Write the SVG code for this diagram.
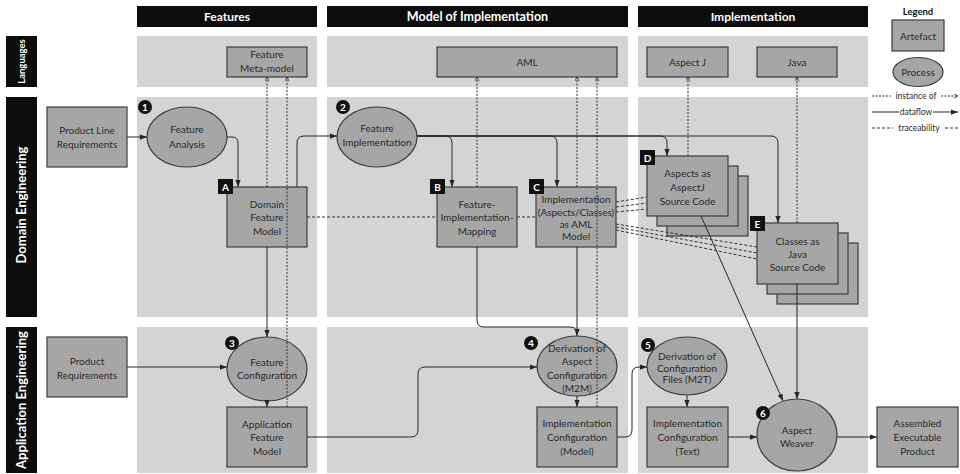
<svg xmlns="http://www.w3.org/2000/svg" width="960" height="474" viewBox="0 0 960 474">
<defs>
<style>
.panel{fill:#d4d4d4}
.hdr{fill:#0d0d0d}
.hdrt{fill:#fff;font-family:Lato,"Liberation Sans",sans-serif;font-weight:bold;font-size:12px;text-anchor:middle}
.node{fill:#a6a6a6;stroke:#3c3c3c;stroke-width:1.2}
.t{font-family:Lato,"Liberation Sans",sans-serif;font-size:10px;fill:#2a2a2a;text-anchor:middle}
.lt{font-family:Lato,"Liberation Sans",sans-serif;font-size:8.5px;fill:#2a2a2a;text-anchor:middle}
.flow{fill:none;stroke:#262626;stroke-width:1;marker-end:url(#arr)}
.flown{fill:none;stroke:#262626;stroke-width:1}
.inst{fill:none;stroke:#333;stroke-width:1;stroke-dasharray:2 1.5;marker-end:url(#open)}
.instn{fill:none;stroke:#333;stroke-width:1;stroke-dasharray:2 1.5}
.trace{fill:none;stroke:#333;stroke-width:1;stroke-dasharray:3 2}
.badge{fill:#111}
.bt{fill:#fff;font-family:Lato,"Liberation Sans",sans-serif;font-weight:bold;font-size:10px;text-anchor:middle}
</style>
<marker id="arr" viewBox="0 0 8 6" refX="8" refY="3" markerWidth="7" markerHeight="5.5" orient="auto" markerUnits="userSpaceOnUse">
<path d="M0,0 L8,3 L0,6 Z" fill="#262626"/>
</marker>
<marker id="open" viewBox="0 0 6 6" refX="5.5" refY="3" markerWidth="5" markerHeight="5" orient="auto" markerUnits="userSpaceOnUse">
<path d="M0.5,0.5 L5.5,3 L0.5,5.5" fill="none" stroke="#333" stroke-width="1"/>
</marker>
</defs>

<g id="background">
<rect x="137" y="36" width="180" height="51" class="panel"/>
<rect x="327" y="36" width="301" height="51" class="panel"/>
<rect x="638" y="36" width="230" height="51" class="panel"/>
<rect x="137" y="97" width="180" height="220" class="panel"/>
<rect x="327" y="97" width="301" height="220" class="panel"/>
<rect x="638" y="97" width="230" height="220" class="panel"/>
<rect x="137" y="327" width="180" height="146" class="panel"/>
<rect x="327" y="327" width="301" height="146" class="panel"/>
<rect x="638" y="327" width="230" height="146" class="panel"/>
</g>

<g id="headers">
<rect x="137" y="6" width="180" height="21" class="hdr"/>
<text x="227" y="20.8" class="hdrt">Features</text>
<rect x="327" y="6" width="301" height="21" class="hdr"/>
<text x="477.5" y="20.8" class="hdrt" style="font-size:12.5px">Model of Implementation</text>
<rect x="638" y="6" width="230" height="21" class="hdr"/>
<text x="753" y="20.8" class="hdrt">Implementation</text>
<rect x="6" y="36" width="31" height="51" class="hdr"/>
<text transform="translate(21.5,61.5) rotate(-90)" y="3.4" class="hdrt" style="font-size:9.5px">Languages</text>
<rect x="6" y="97" width="31" height="220" class="hdr"/>
<text transform="translate(21.5,205) rotate(-90)" y="4.5" class="hdrt" style="font-size:13px">Domain Engineering</text>
<rect x="6" y="327" width="31" height="146" class="hdr"/>
<text transform="translate(21.5,400) rotate(-90)" y="4.5" class="hdrt" style="font-size:13px">Application Engineering</text>
</g>

<g id="legend">
<text x="918" y="15" class="hdrt" style="fill:#111;font-size:9.5px">Legend</text>
<rect x="892" y="20" width="52" height="31" class="node"/>
<text x="918" y="39.5" class="t">Artefact</text>
<ellipse cx="918" cy="72" rx="25" ry="14.5" class="node"/>
<text x="918" y="75.5" class="t">Process</text>
<path d="M872,96 H891" class="instn"/>
<text x="916" y="99" class="lt">instance of</text>
<path d="M941,96 H958" class="inst"/>
<path d="M872,112 H899" class="flown"/>
<text x="916" y="115" class="lt">dataflow</text>
<path d="M933,112 H958" class="flow"/>
<path d="M872,128 H893" class="trace"/>
<text x="919" y="131" class="lt">traceability</text>
<path d="M945,128 H958" class="trace"/>
</g>

<g id="n-feature-metamodel">
<rect x="227" y="47" width="80" height="30" class="node"/>
<text x="267" y="58" class="t">Feature</text>
<text x="267" y="72" class="t">Meta-model</text>
</g>
<g id="n-aml">
<rect x="437" y="47" width="180" height="30" class="node"/>
<text x="527" y="65.5" class="t">AML</text>
</g>
<g id="n-aspectj">
<rect x="647" y="47" width="81" height="30" class="node"/>
<text x="687.5" y="65.5" class="t">Aspect J</text>
</g>
<g id="n-java">
<rect x="757" y="47" width="80" height="30" class="node"/>
<text x="797" y="65.5" class="t">Java</text>
</g>

<g id="n-plr">
<rect x="47" y="107" width="80" height="60" class="node"/>
<text x="87" y="133.5" class="t">Product Line</text>
<text x="87" y="147.5" class="t">Requirements</text>
</g>
<g id="n-feature-analysis">
<ellipse cx="187" cy="137" rx="40" ry="30" class="node"/>
<text x="187" y="132.5" class="t">Feature</text>
<text x="187" y="147.5" class="t">Analysis</text>
<circle cx="145" cy="107" r="7" class="badge"/>
<text x="145" y="110.5" class="bt">1</text>
</g>
<g id="n-feature-impl">
<ellipse cx="377" cy="137" rx="40" ry="30" class="node"/>
<text x="377" y="131.5" class="t">Feature</text>
<text x="377" y="145.5" class="t">Implementation</text>
<circle cx="343" cy="107" r="7" class="badge"/>
<text x="343" y="110.5" class="bt">2</text>
</g>
<g id="n-A">
<rect x="227" y="187" width="80" height="60" class="node"/>
<text x="267" y="207.5" class="t">Domain</text>
<text x="267" y="220.5" class="t">Feature</text>
<text x="267" y="234.5" class="t">Model</text>
<rect x="218" y="179" width="15" height="15" class="badge"/>
<text x="225.5" y="190.5" class="bt">A</text>
</g>
<g id="n-B">
<rect x="437" y="187" width="80" height="60" class="node"/>
<text x="477" y="207.5" class="t">Feature-</text>
<text x="477" y="220.5" class="t">Implementation-</text>
<text x="477" y="234.5" class="t">Mapping</text>
<rect x="430" y="179" width="15" height="15" class="badge"/>
<text x="437.5" y="190.5" class="bt">B</text>
</g>
<g id="n-C">
<rect x="536" y="187" width="80" height="60" class="node"/>
<text x="576" y="202.5" class="t">Implementation</text>
<text x="576" y="215.5" class="t">(Aspects/Classes)</text>
<text x="576" y="228" class="t">as AML</text>
<text x="576" y="240" class="t">Model</text>
<rect x="529" y="179" width="15" height="15" class="badge"/>
<text x="536.5" y="190.5" class="bt">C</text>
</g>
<g id="n-D">
<rect x="667" y="176" width="81" height="60" class="node"/>
<rect x="657" y="166" width="81" height="60" class="node"/>
<rect x="647" y="156" width="81" height="60" class="node"/>
<text x="687.5" y="176.5" class="t">Aspects as</text>
<text x="687.5" y="190.5" class="t">AspectJ</text>
<text x="687.5" y="204.5" class="t">Source Code</text>
<rect x="640" y="150" width="15" height="15" class="badge"/>
<text x="647.5" y="161.5" class="bt">D</text>
</g>
<g id="n-E">
<rect x="777" y="243" width="81" height="61" class="node"/>
<rect x="767" y="233" width="81" height="61" class="node"/>
<rect x="757" y="223" width="81" height="61" class="node"/>
<text x="797.5" y="244.5" class="t">Classes as</text>
<text x="797.5" y="257.5" class="t">Java</text>
<text x="797.5" y="270.5" class="t">Source Code</text>
<rect x="750" y="216" width="15" height="15" class="badge"/>
<text x="757.5" y="227.5" class="bt">E</text>
</g>

<g id="n-pr">
<rect x="47" y="337" width="80" height="60" class="node"/>
<text x="87" y="364.5" class="t">Product</text>
<text x="87" y="378.5" class="t">Requirements</text>
</g>
<g id="n-feature-config">
<ellipse cx="267" cy="369" rx="40" ry="32" class="node"/>
<text x="267" y="365.5" class="t">Feature</text>
<text x="267" y="378.5" class="t">Configuration</text>
<circle cx="232" cy="343" r="7" class="badge"/>
<text x="232" y="346.5" class="bt">3</text>
</g>
<g id="n-afm">
<rect x="227" y="407" width="80" height="60" class="node"/>
<text x="267" y="427.5" class="t">Application</text>
<text x="267" y="440.5" class="t">Feature</text>
<text x="267" y="454.5" class="t">Model</text>
</g>
<g id="n-deriv-aspect">
<ellipse cx="577" cy="366" rx="40" ry="30" class="node"/>
<text x="577" y="351.5" class="t">Derivation of</text>
<text x="577" y="364.5" class="t">Aspect</text>
<text x="577" y="378.5" class="t">Configuration</text>
<text x="577" y="391.5" class="t">(M2M)</text>
<circle cx="531" cy="343" r="7" class="badge"/>
<text x="531" y="346.5" class="bt">4</text>
</g>
<g id="n-icm">
<rect x="537" y="407" width="80" height="60" class="node"/>
<text x="577" y="426.5" class="t">Implementation</text>
<text x="577" y="440.5" class="t">Configuration</text>
<text x="577" y="454.5" class="t">(Model)</text>
</g>
<g id="n-deriv-files">
<ellipse cx="687" cy="366" rx="40" ry="29" class="node"/>
<text x="687" y="360" class="t">Derivation of</text>
<text x="687" y="371.5" class="t">Configuration</text>
<text x="687" y="383" class="t">Files (M2T)</text>
<circle cx="648" cy="345" r="7" class="badge"/>
<text x="648" y="348.5" class="bt">5</text>
</g>
<g id="n-ict">
<rect x="647" y="407" width="81" height="60" class="node"/>
<text x="687.5" y="426.5" class="t">Implementation</text>
<text x="687.5" y="440.5" class="t">Configuration</text>
<text x="687.5" y="454.5" class="t">(Text)</text>
</g>
<g id="n-weaver">
<ellipse cx="797" cy="435" rx="40" ry="36" class="node"/>
<text x="797" y="434" class="t">Aspect</text>
<text x="797" y="447" class="t">Weaver</text>
<circle cx="763" cy="413" r="7" class="badge"/>
<text x="763" y="416.5" class="bt">6</text>
</g>
<g id="n-aep">
<rect x="877" y="407" width="81" height="60" class="node"/>
<text x="917.5" y="426.5" class="t">Assembled</text>
<text x="917.5" y="440.5" class="t">Executable</text>
<text x="917.5" y="454.5" class="t">Product</text>
</g>

<g id="connectors">
<path d="M127,137 H147" class="flow"/>
<path d="M227,137 H232 Q238,137 238,143 V187" class="flow"/>
<path d="M297,187 V143 Q297,136 304,136 H337" class="flow"/>
<path d="M417,136 H445 Q452,136 452,143 V187" class="flow"/>
<path d="M417,136 H550 Q557,136 557,143 V187" class="flow"/>
<path d="M417,136 H660 Q667,136 667,143 V156" class="flow"/>
<path d="M417,136 H771 Q778,136 778,143 V223" class="flow"/>
<path d="M267,247 V337" class="flow"/>
<path d="M127,367 H227" class="flow"/>
<path d="M267,401 V407" class="flow"/>
<path d="M307,437 H411 Q418,437 418,430 V374 Q418,367 425,367 H537" class="flow"/>
<path d="M477,247 V320 Q477,327 484,327 H570 Q577,327 577,334" class="flown"/>
<path d="M577,247 V336" class="flow"/>
<path d="M577,396 V407" class="flow"/>
<path d="M617,437 H625 Q632,437 632,430 V374 Q632,367 639,367 H647" class="flow"/>
<path d="M687,395 V407" class="flow"/>
<path d="M728,437 H757" class="flow"/>
<path d="M837,437 H877" class="flow"/>
<path d="M701,216 L783,401" class="flow"/>
<path d="M797,284 V399" class="flow"/>
<path d="M267,187 V77" class="inst"/>
<path d="M287,407 V77" class="inst"/>
<path d="M477,187 V77" class="inst"/>
<path d="M577,187 V77" class="inst"/>
<path d="M597,407 V77" class="inst"/>
<path d="M688,156 V77" class="inst"/>
<path d="M797,223 V77" class="inst"/>
<path d="M307,217 H437" class="trace"/>
<path d="M517,217 H536" class="trace"/>
<path d="M616,202 L647,197" class="trace"/>
<path d="M616,207 L647,203" class="trace"/>
<path d="M616,212 L647,209" class="trace"/>
<path d="M616,224 L757,247" class="trace"/>
<path d="M616,227 L757,253" class="trace"/>
<path d="M616,230 L757,259" class="trace"/>
</g>
</svg>
